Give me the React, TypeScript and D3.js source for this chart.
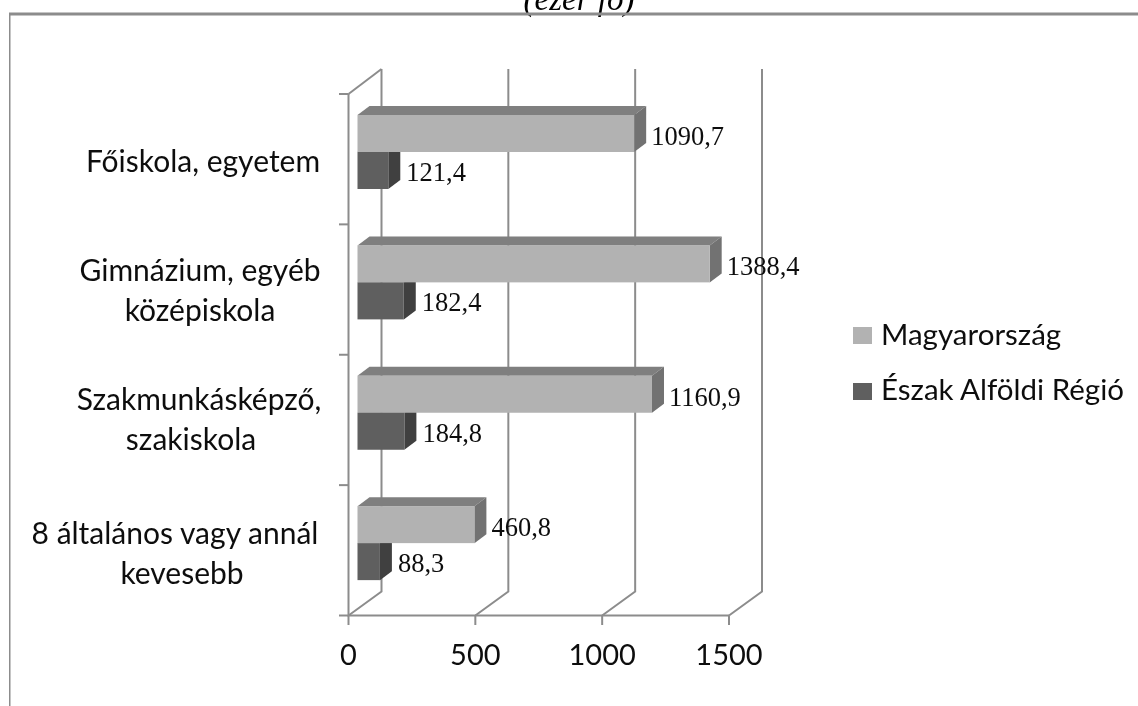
import React from "react";
import * as d3 from "d3";

const categories = ["Főiskola, egyetem", "Gimnázium, egyéb középiskola", "Szakmunkásképző, szakiskola", "8 általános vagy annál kevesebb"];
const categoryLines = [["Főiskola, egyetem"], ["Gimnázium, egyéb", "középiskola"], ["Szakmunkásképző,", "szakiskola"], ["8 általános vagy annál", "kevesebb"]];
const categoryCentres = [[203], [200, 200], [199, 191], [175, 182]];
const categoryBaselines = [[172], [281, 321], [410, 450], [544, 584]];
const magyarorszag = [1090.7, 1388.4, 1160.9, 460.8];
const eszakAlfold = [121.4, 182.4, 184.8, 88.3];
const ticks = [0, 500, 1000, 1500];
const seriesNames = ["Magyarország", "Észak Alföldi Régió"];
const fmt = (v: number) => v.toFixed(1).replace(".", ",");

const SANS = "Lato,'Open Sans',sans-serif";
const SERIF = "'Liberation Serif',serif";
const AXIS = "#8c8c8c";

export default function App() {
  const x = d3.scaleLinear().domain([0, 1500]).range([348.5, 729]);
  const y = d3.scaleBand<string>().domain(categories).range([94, 615.5]);
  const barX0 = 357.5;
  const barW = (v: number) => x(v) - x(0);
  const bw = y.bandwidth();
  const depX = 33, depY = 24;
  const bdx = 12, bdy = 9;
  const barH = 37;
  const topOff = 21;

  const bar = (v: number, top: number, front: string, side: string, roof: string, key: string) => {
    const r = barX0 + barW(v);
    return (
      <g key={key}>
        <path d={`M${barX0},${top}L${barX0 + bdx},${top - bdy}H${r + bdx}L${r},${top}Z`} fill={roof} />
        <path d={`M${r},${top}L${r + bdx},${top - bdy}V${top + barH - bdy}L${r},${top + barH}Z`} fill={side} />
        <rect x={barX0} y={top} width={barW(v)} height={barH} fill={front} />
      </g>
    );
  };

  return (
    <svg width={1138} height={706} style={{ position: "absolute", left: 0, top: 0, background: "#fff" }}>
      <defs>
        <filter id="soft" x="0" y="0" width="100%" height="100%">
          <feGaussianBlur stdDeviation="0.5" />
        </filter>
      </defs>
      <g filter="url(#soft)">
        <text x={579} y={10} textAnchor="middle" fontFamily={SERIF} fontStyle="italic" fontSize={33} fill="#000">(ezer fő)</text>
        <path d="M9,706V14H1138" fill="none" stroke="#8c8c8c" strokeWidth={3} />

        {ticks.map((t) => (
          <path key={t} d={`M${x(t)},615.5L${x(t) + depX},${615.5 - depY}V69`} fill="none" stroke={AXIS} strokeWidth={2} />
        ))}
        <path d={`M${x(0)},94L${x(0) + depX},69`} fill="none" stroke={AXIS} strokeWidth={2} />
        <path d={`M${x(0)},94V615.5H${x(1500)}`} fill="none" stroke={AXIS} strokeWidth={2} />
        {ticks.map((t) => (
          <line key={t} x1={x(t)} x2={x(t)} y1={615.5} y2={625} stroke={AXIS} strokeWidth={2} />
        ))}
        {d3.range(5).map((i) => (
          <line key={i} x1={339} x2={x(0)} y1={94 + i * bw} y2={94 + i * bw} stroke={AXIS} strokeWidth={2} />
        ))}

        {categories.map((c, i) => {
          const top = (y(c) as number) + topOff;
          return (
            <g key={c}>
              {bar(eszakAlfold[i], top + barH, "#5e5e5e", "#3f3f3f", "#3f3f3f", "b" + i)}
              {bar(magyarorszag[i], top, "#b2b2b2", "#727272", "#7f7f7f", "a" + i)}
              <text x={barX0 + barW(magyarorszag[i]) + 17} y={top + 30} fontFamily={SERIF} fontSize={26.5} fill="#111">{fmt(magyarorszag[i])}</text>
              <text x={barX0 + barW(eszakAlfold[i]) + 18} y={top + barH + 29} fontFamily={SERIF} fontSize={26.5} fill="#111">{fmt(eszakAlfold[i])}</text>
              {categoryLines[i].map((l, k) => (
                <text key={k} x={categoryCentres[i][k]} y={categoryBaselines[i][k]} textAnchor="middle" fontFamily={SANS} fontSize={30} fill="#111">{l}</text>
              ))}
            </g>
          );
        })}

        {ticks.map((t) => (
          <text key={t} x={x(t)} y={665} textAnchor="middle" fontFamily={SANS} fontSize={29} fill="#111">{t}</text>
        ))}

        {seriesNames.map((s, i) => (
          <g key={s}>
            <rect x={853} y={327 + i * 56} width={19} height={17} fill={i === 0 ? "#b2b2b2" : "#5e5e5e"} />
            <text x={881} y={345 + i * 55} fontFamily={SANS} fontSize={29.5} fill="#111">{s}</text>
          </g>
        ))}
      </g>
    </svg>
  );
}
